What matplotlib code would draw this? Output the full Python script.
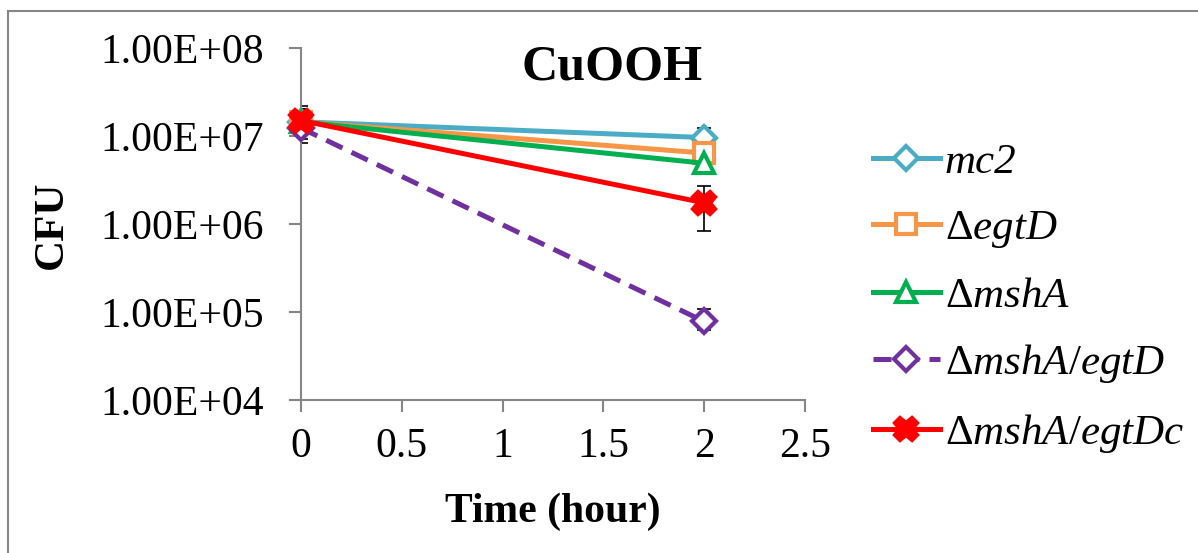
import matplotlib
matplotlib.use("Agg")
import matplotlib.pyplot as plt
from matplotlib.patches import Rectangle

plt.rcParams['font.family'] = ['Liberation Serif', 'DejaVu Serif']
plt.rcParams['mathtext.fontset'] = 'custom'
plt.rcParams['mathtext.rm'] = 'Liberation Serif'
plt.rcParams['mathtext.it'] = 'Liberation Serif:italic'

time = [0, 2]
series_names = ["mc2", "egtD", "mshA", "mshA/egtD", "mshA/egtDc"]
mc2 = [1.45e7, 9.6e6]
egtD = [1.45e7, 6.4e6]
mshA = [1.45e7, 4.9e6]
mshA_egtD = [1.23e7, 7.8e4]
mshA_egtDc = [1.5e7, 1.74e6]
err_low = {
    "mc2": [4e6, 1e6], "egtD": [4e6, 5e5], "mshA": [4e6, 5e5],
    "mshA/egtD": [3e6, 1.5e4], "mshA/egtDc": [6.7e6, 9.1e5]}
err_high = {
    "mc2": [6e6, 2.7e6], "egtD": [6e6, 1e6], "mshA": [6e6, 8e5],
    "mshA/egtD": [5e6, 3e4], "mshA/egtDc": [7e6, 9.6e5]}
yticks = [1e4, 1e5, 1e6, 1e7, 1e8]
ytick_labels = ["1.00E+04", "1.00E+05", "1.00E+06", "1.00E+07", "1.00E+08"]
xticks = [0, 0.5, 1, 1.5, 2, 2.5]
xtick_labels = ["0", "0.5", "1", "1.5", "2", "2.5"]

colors = ["#4BACC6", "#F79646", "#00B050", "#7030A0", "#FF0000"]
labels = ["mc2", r"$\Delta\it{egtD}$", r"$\Delta\it{mshA}$",
          r"$\Delta\it{mshA/egtD}$", r"$\Delta\it{mshA/egtDc}$"]
data = [mc2, egtD, mshA, mshA_egtD, mshA_egtDc]

fig = plt.figure(figsize=(11.98, 5.53), dpi=100)
ax = fig.add_axes([301/1198, 1-400/553, (805-301)/1198, (400-48)/553])
ax.set_yscale('log')
ax.set_ylim(1e4, 1e8)
ax.set_xlim(0, 2.5)

styles = [
    dict(marker='D', ms=12, mfc='white', ls='-'),
    dict(marker='s', ms=15, mfc='white', ls='-'),
    dict(marker='^', ms=15, mfc='white', ls='-'),
    dict(marker='D', ms=12, mfc='white', ls=(0, (3.6, 2.0))),
    dict(marker='X', ms=16, mfc=colors[4], ls='-'),
]

handles = []
for name, d, c, st, lab in zip(series_names, data, colors, styles, labels):
    ax.errorbar(time, d, yerr=[err_low[name], err_high[name]], fmt='none',
                ecolor='black', elinewidth=1.2, capsize=5, capthick=1.2, zorder=2)
for name, d, c, st, lab in zip(series_names, data, colors, styles, labels):
    h, = ax.plot(time, d, color=c, lw=3.6, mec=c, mew=3, label=lab,
                 zorder=3, clip_on=False, **st)
    handles.append(h)

ax.set_yticks(yticks)
ax.set_yticklabels(ytick_labels)
ax.yaxis.set_minor_locator(matplotlib.ticker.NullLocator())
ax.set_xticks(xticks)
ax.set_xticklabels(xtick_labels)
for s in ['top', 'right']:
    ax.spines[s].set_visible(False)
for s in ['left', 'bottom']:
    ax.spines[s].set_color('#868686')
    ax.spines[s].set_linewidth(1.5)
ax.tick_params(axis='both', direction='out', length=8.5, width=1.5,
               color='#868686', labelsize=30)
ax.tick_params(axis='y', pad=18)
ax.tick_params(axis='x', pad=11)

fig.text(612/1198, 1-68/553, "CuOOH", fontsize=36, fontweight='bold',
         ha='center', va='center')
fig.text(52/1198, 1-225/553, "CFU", fontsize=31, fontweight='bold',
         ha='center', va='center', rotation=90)
fig.text(553/1198, 1-512/553, "Time (hour)", fontsize=30, fontweight='bold',
         ha='center', va='center')

leg = fig.legend(handles=handles, loc='upper left',
                 bbox_to_anchor=(873/1198, 1-143/553), frameon=False,
                 fontsize=31, handlelength=1.55, handletextpad=0.12,
                 labelspacing=0.62, borderpad=0, borderaxespad=0)
leg.get_texts()[0].set_fontstyle('italic')

fig.patches.append(Rectangle((8/1198, -0.1), 1.2, 1-11/553+0.1,
                             transform=fig.transFigure, fill=False,
                             edgecolor='#868686', lw=1.5))

fig.savefig("out.png", dpi=100)
